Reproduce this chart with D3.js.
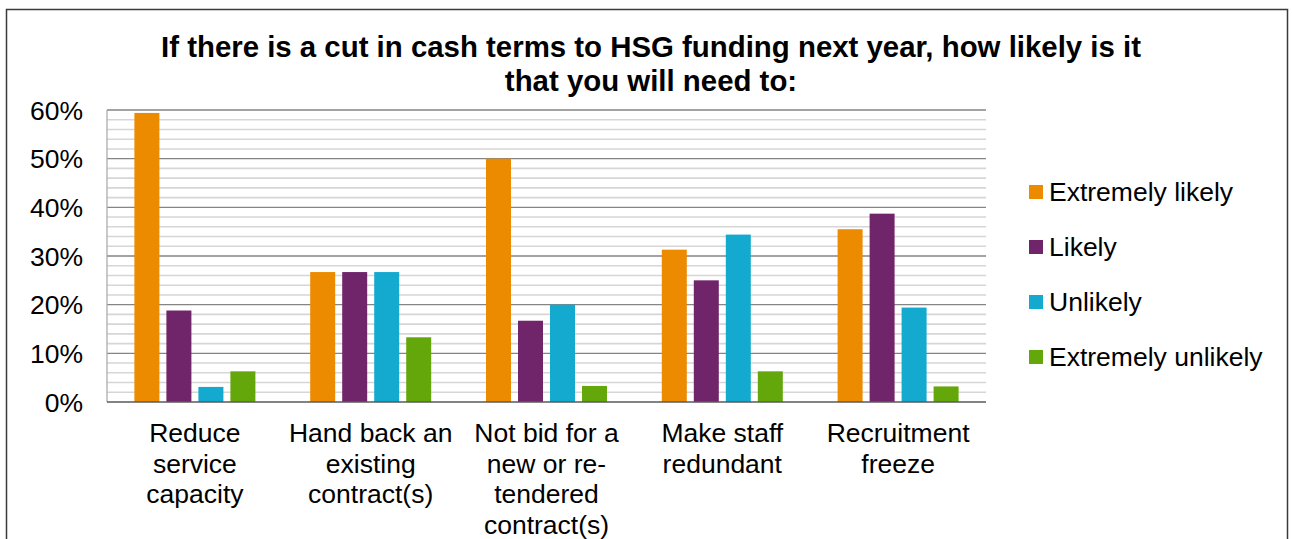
<!DOCTYPE html>
<html>
<head>
<meta charset="utf-8">
<script src="https://cdn.jsdelivr.net/npm/d3@7"></script>
<style>
  html, body { margin: 0; padding: 0; background: #fff; }
  svg { display: block; font-family: "Liberation Sans", Arial, sans-serif; }
</style>
</head>
<body>
<svg id="chart" width="1292" height="539"></svg>
<script>
const titleLines = ["If there is a cut in cash terms to HSG funding next year, how likely is it", "that you will need to:"];
const categories = ["Reduce service capacity", "Hand back an existing contract(s)", "Not bid for a new or re-tendered contract(s)", "Make staff redundant", "Recruitment freeze"];
const categoryLines = [
  ["Reduce", "service", "capacity"],
  ["Hand back an", "existing", "contract(s)"],
  ["Not bid for a", "new or re-", "tendered", "contract(s)"],
  ["Make staff", "redundant"],
  ["Recruitment", "freeze"]
];
const seriesNames = ["Extremely likely", "Likely", "Unlikely", "Extremely unlikely"];
const extremelyLikely  = [59.4, 26.7, 50.0, 31.3, 35.5];
const likely           = [18.8, 26.7, 16.7, 25.0, 38.7];
const unlikely         = [3.1, 26.7, 20.0, 34.4, 19.4];
const extremelyUnlikely = [6.3, 13.3, 3.3, 6.3, 3.2];
const seriesValues = [extremelyLikely, likely, unlikely, extremelyUnlikely];
const seriesColors = ["#EC8A00", "#70246A", "#14A9CF", "#64A70B"];
const yTicks = [0, 10, 20, 30, 40, 50, 60];

const svg = d3.select("#chart");
const FS = 26.5;

// outer border
svg.append("rect").attr("x", 6.5).attr("y", 9.5).attr("width", 1281).attr("height", 540)
  .attr("fill", "none").attr("stroke", "#3a3a3a").attr("stroke-width", 1.5);

const pLeft = 107, pRight = 986, pTop = 110, pBottom = 402;

const y = d3.scaleLinear().domain([0, 60]).range([pBottom, pTop]);
const x0 = d3.scaleBand().domain(categories).range([pLeft, pRight]).paddingInner(0).paddingOuter(0);
const x1 = d3.scaleBand().domain(seriesNames).range([0, 121]).paddingInner(0.219).paddingOuter(0);

// minor gridlines
const minor = d3.range(0, 61, 2).filter(v => v % 10 !== 0);
svg.append("g").selectAll("line").data(minor).join("line")
  .attr("x1", pLeft).attr("x2", pRight)
  .attr("y1", d => y(d)).attr("y2", d => y(d))
  .attr("stroke", "#d6d6d6").attr("stroke-width", 1.6);

// major gridlines
svg.append("g").selectAll("line").data(yTicks.filter(v => v > 0)).join("line")
  .attr("x1", pLeft).attr("x2", pRight)
  .attr("y1", d => y(d)).attr("y2", d => y(d))
  .attr("stroke", "#858585").attr("stroke-width", 1.4);

// left axis line
svg.append("line").attr("x1", pLeft).attr("x2", pLeft).attr("y1", pTop).attr("y2", pBottom)
  .attr("stroke", "#a6a6a6").attr("stroke-width", 1.2);

// bars
const groups = svg.append("g").selectAll("g").data(categories).join("g")
  .attr("transform", d => `translate(${x0(d) + x0.bandwidth() / 2 - 60.5},0)`);
groups.selectAll("rect").data((c, i) => seriesNames.map((s, k) => ({ s, v: seriesValues[k][i], k })))
  .join("rect")
  .attr("x", d => x1(d.s))
  .attr("width", x1.bandwidth())
  .attr("y", d => y(d.v))
  .attr("height", d => pBottom - y(d.v))
  .attr("fill", d => seriesColors[d.k]);

// bottom axis line
svg.append("line").attr("x1", pLeft).attr("x2", pRight).attr("y1", pBottom).attr("y2", pBottom)
  .attr("stroke", "#5a5a5a").attr("stroke-width", 1.6);

// y tick labels
const yAxis = d3.axisLeft(y).tickValues(yTicks).tickFormat(d => d + "%").tickSize(0).tickPadding(24);
const yg = svg.append("g").attr("transform", `translate(${pLeft},0)`).call(yAxis);
yg.select(".domain").remove();
yg.selectAll("text").attr("font-size", FS).attr("fill", "#000")
  .attr("font-family", "'Liberation Sans', Arial, sans-serif").attr("dy", "0.35em");

// x labels
const xl = svg.append("g");
categories.forEach((c, i) => {
  const cx = x0(c) + x0.bandwidth() / 2;
  const t = xl.append("text").attr("text-anchor", "middle").attr("font-size", FS).attr("fill", "#000");
  categoryLines[i].forEach((ln, j) => {
    t.append("tspan").attr("x", cx).attr("y", 442 + j * 30.7).text(ln);
  });
});

// title
const tt = svg.append("text").attr("text-anchor", "middle").attr("font-size", 29.4)
  .attr("font-weight", "bold").attr("fill", "#000");
titleLines.forEach((ln, j) => {
  tt.append("tspan").attr("x", 651).attr("y", 57 + j * 34).text(ln);
});

// legend
const lg = svg.append("g").selectAll("g").data(seriesNames).join("g")
  .attr("transform", (d, i) => `translate(1029,${192 + i * 55})`);
lg.append("rect").attr("x", 0).attr("y", -7).attr("width", 14).attr("height", 14)
  .attr("fill", (d, i) => seriesColors[i]);
lg.append("text").attr("x", 20).attr("y", 0).attr("dy", "0.35em").attr("font-size", FS)
  .attr("fill", "#000").text(d => d);
</script>
</body>
</html>
